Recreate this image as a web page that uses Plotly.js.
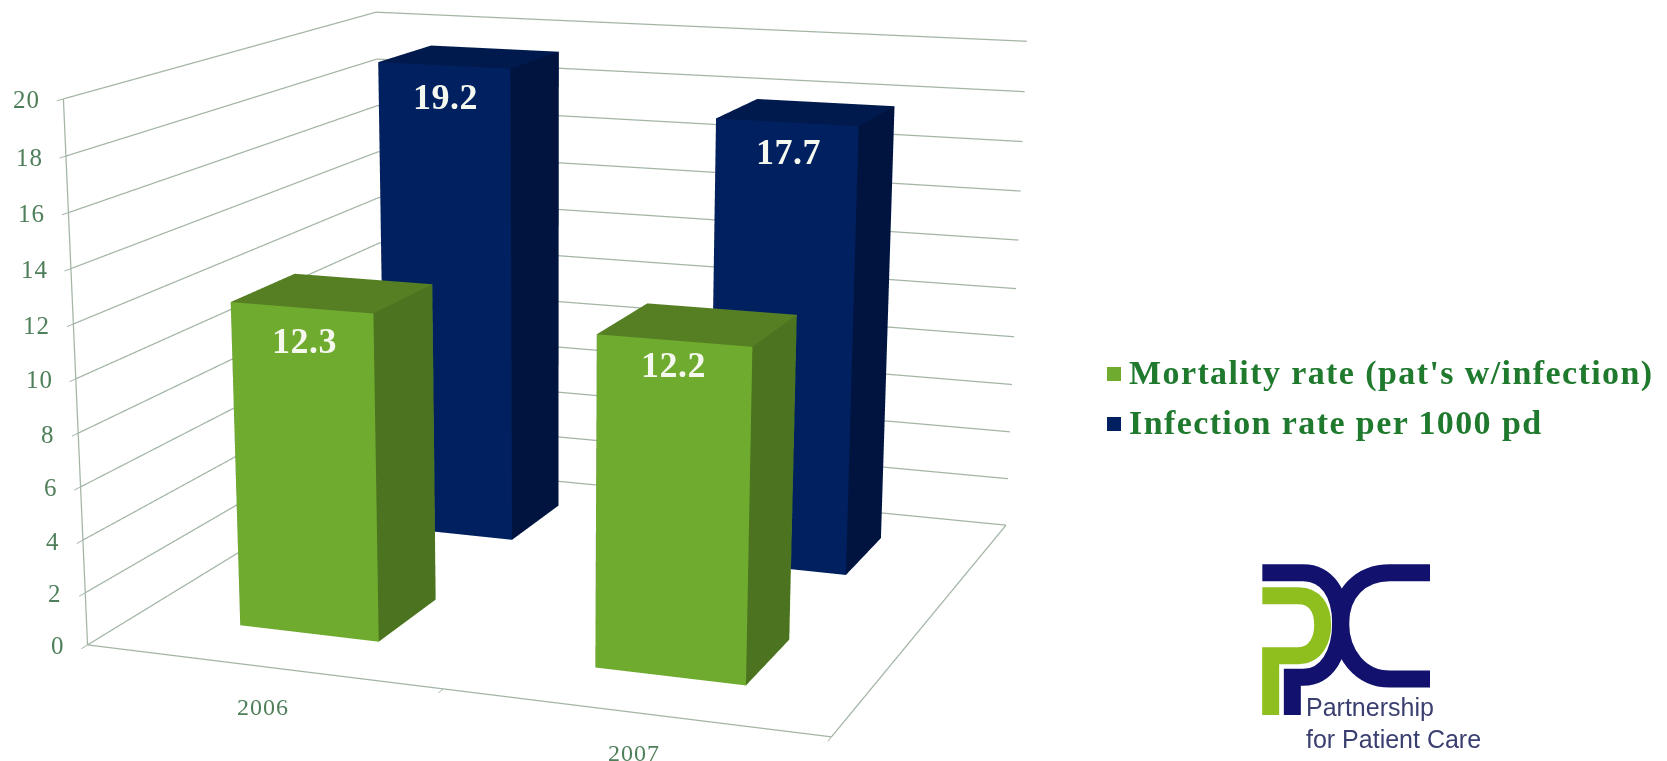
<!DOCTYPE html>
<html>
<head>
<meta charset="utf-8">
<script src="https://cdn.plot.ly/plotly-3.0.1.min.js"></script>
<style>
  html, body { margin: 0; padding: 0; width: 1667px; height: 761px; overflow: hidden; background: #fff; }
  #chart { position: absolute; left: -727px; top: -743px; width: 2552px; height: 2552px; }
</style>
</head>
<body>
<div id="chart"></div>
<script>
// Chart values
const years = ['2006', '2007'];
const mortalityRate = [12.3, 12.2];
const infectionRate = [19.2, 17.7];
const mortalityName = "Mortality rate (pat's w/infection)";
const infectionName = 'Infection rate per 1000 pd';
const valueTicks = [0, 2, 4, 6, 8, 10, 12, 14, 16, 18, 20];
const logoLines = ['Partnership', 'for Patient Care'];

// The scene is larger than the window so its 45 degree field of view gives a long lens.
const SIZE = 2552, OFF_X = -727, OFF_Y = -743;
const px = x => (x - OFF_X) / SIZE;
const py = y => 1 - (y - OFF_Y) / SIZE;

const BAR_HALF_W = 0.2, BAR_HALF_D = 0.201;
const ROW_MORTALITY = 0.498, ROW_INFECTION = 1.53;
const COL_MORTALITY = 0.5, COL_INFECTION = 0.488;
const X_MAX = 2, Y_MAX = 2, Z_MAX = 20;

// One mesh holding every bar of a series, each bar a box with its own face colours.
function barMesh(name, values, col, row, cFront, cTop, cSide) {
  const m = { x: [], y: [], z: [], i: [], j: [], k: [], facecolor: [] };
  values.forEach((v, c) => {
    const x0 = c + col - BAR_HALF_W, x1 = c + col + BAR_HALF_W;
    const y0 = row - BAR_HALF_D, y1 = row + BAR_HALF_D;
    const b = m.x.length;
    [[x0,y0,0],[x1,y0,0],[x1,y1,0],[x0,y1,0],[x0,y0,v],[x1,y0,v],[x1,y1,v],[x0,y1,v]].forEach(p => {
      m.x.push(p[0]); m.y.push(p[1]); m.z.push(p[2]);
    });
    const quads = [
      [0,1,5,4,cFront], [1,2,6,5,cSide], [4,5,6,7,cTop],
      [3,2,6,7,cFront], [0,3,7,4,cSide], [0,1,2,3,cFront]
    ];
    quads.forEach(q => {
      m.i.push(b+q[0], b+q[0]); m.j.push(b+q[1], b+q[2]); m.k.push(b+q[2], b+q[3]);
      m.facecolor.push(q[4], q[4]);
    });
  });
  return Object.assign(m, {
    type: 'mesh3d', name: name, flatshading: true, hoverinfo: 'skip', showscale: false,
    lighting: { ambient: 1, diffuse: 0, specular: 0, fresnel: 0, roughness: 1 }
  });
}

const GREEN = '#6fab2e', NAVY = '#01205f';
const GRID = '#a3b5a5', AXIS_TEXT = '#4f7f5a';

// Wall grid lines for each value tick, then the open edges of the floor and the value axis.
const frame = { x: [], y: [], z: [] };
const seg = pts => { pts.forEach(p => { frame.x.push(p[0]); frame.y.push(p[1]); frame.z.push(p[2]); }); frame.x.push(null); frame.y.push(null); frame.z.push(null); };
valueTicks.forEach(t => seg([[0, 0, t], [0, Y_MAX, t], [X_MAX, Y_MAX, t]]));
seg([[0, 0, Z_MAX], [0, 0, 0], [X_MAX, 0, 0], [X_MAX, Y_MAX, 0]]);

const traces = [
  barMesh(mortalityName, mortalityRate, COL_MORTALITY, ROW_MORTALITY, GREEN, '#567f24', '#4b7320'),
  barMesh(infectionName, infectionRate, COL_INFECTION, ROW_INFECTION, NAVY, '#011a4e', '#011440'),
  Object.assign({ type: 'scatter3d', mode: 'lines', hoverinfo: 'skip', showlegend: false, line: { color: GRID, width: 2.5 } }, frame)
];

const baseAxis = {
  showbackground: false, showspikes: false, zeroline: false, showticklabels: false,
  showline: false, showgrid: false, tickcolor: GRID, tickwidth: 2, autorange: false, title: { text: '' }
};

const spaced = (t, s) => '<span style="letter-spacing:' + s + 'px">' + t + '</span>';
const annos3d = [];
valueTicks.forEach(t => annos3d.push({
  x: 0, y: 0, z: t, text: spaced(String(t), 1), showarrow: false, xanchor: 'right', xshift: -21, yshift: -1,
  font: { family: 'Liberation Serif', size: 25, color: AXIS_TEXT }
}));
years.forEach((y, c) => annos3d.push({
  x: c + 0.5, y: 0, z: 0, text: spaced(y, 1), showarrow: false, yshift: -41, xshift: 1,
  font: { family: 'Liberation Serif', size: 24, color: AXIS_TEXT }
}));
function valueLabels(values, col, row, shifts) {
  values.forEach((v, c) => annos3d.push({
    x: c + col, y: row - BAR_HALF_D, z: v, text: '<b>' + spaced(v.toFixed(1), 0.5) + '</b>', showarrow: false,
    xshift: shifts[c][0], yshift: shifts[c][1],
    font: { family: 'Liberation Serif', size: 36, color: '#f4f8ee' }
  }));
}
valueLabels(mortalityRate, COL_MORTALITY, ROW_MORTALITY, [[3, -33], [0, -24]]);
valueLabels(infectionRate, COL_INFECTION, ROW_INFECTION, [[2, -32], [2, -30]]);

// Key on the right and the logo, placed in window pixels.
const LEGEND_GREEN = '#1f7a2e';
const annos = [
  [mortalityName, 386], [infectionName, 435]
].map(r => ({
  xref: 'paper', yref: 'paper', x: px(1127), y: py(r[1]), xanchor: 'left', yanchor: 'bottom', yshift: -8,
  text: '<b>' + spaced(r[0], 1.4) + '</b>', showarrow: false,
  font: { family: 'Liberation Serif', size: 34, color: LEGEND_GREEN }
}));
logoLines.forEach((t, n) => annos.push({
  xref: 'paper', yref: 'paper', x: px(1304), y: py(717 + n * 32), xanchor: 'left', yanchor: 'bottom', yshift: -6,
  text: t, showarrow: false, font: { family: 'Liberation Sans', size: 25, color: '#3a3f70' }
}));

function square(x, y, s, color) {
  return { type: 'rect', xref: 'paper', yref: 'paper', x0: px(x), x1: px(x + s), y0: py(y), y1: py(y + s),
           fillcolor: color, line: { width: 0 } };
}
// Logo strokes are described on a 3x grid anchored at the logo corner.
const logoPt = (x, y) => px(1220 + x / 3) + ',' + py(540 + y / 3);
function stroke(cmds, color) {
  const d = cmds.map(c => c[0] + c.slice(1).map(p => logoPt(p[0], p[1])).join(' ')).join(' ');
  return { type: 'path', xref: 'paper', yref: 'paper', path: d, fillcolor: 'rgba(0,0,0,0)', line: { color: color, width: 17 } };
}
const LOGO_NAVY = '#12126e', LOGO_GREEN = '#8fbf1f';
const shapes = [
  square(1107, 367, 14, GREEN),
  square(1107, 417, 14, NAVY),
  stroke([['M',[152,525]],['L',[152,347]],['L',[235,347]],['C',[290,347],[308,295],[308,255]],['C',[308,205],[285,167],[235,167]],['L',[127,167]]], LOGO_GREEN),
  stroke([['M',[217,525]],['L',[217,412]],['L',[250,412]],['C',[320,412],[362,340],[362,250]],['C',[362,160],[320,98],[250,98]],['L',[127,98]]], LOGO_NAVY),
  stroke([['M',[630,98]],['L',[510,98]],['C',[420,98],[362,160],[362,250]],['C',[362,340],[420,417],[510,417]],['L',[630,417]]], LOGO_NAVY)
];

const layout = {
  width: SIZE, height: SIZE, margin: { l: 0, r: 0, t: 0, b: 0, pad: 0 },
  paper_bgcolor: '#ffffff', showlegend: false, hovermode: false,
  annotations: annos, shapes: shapes,
  scene: {
    domain: { x: [0, 1], y: [0, 1] },
    aspectmode: 'manual', aspectratio: { x: 1.0043, y: 0.974, z: 0.714 },
    camera: {
      projection: { type: 'perspective' },
      eye: { x: 1.3945, y: -3.8615, z: 0.9116 },
      center: { x: -0.0089, y: -0.0829, z: -0.2651 },
      up: { x: 0, y: 0, z: 1 }
    },
    dragmode: false,
    xaxis: Object.assign({}, baseAxis, { range: [0, X_MAX], tickvals: [0, 1, 2], ticks: 'outside', ticklen: 10 }),
    yaxis: Object.assign({}, baseAxis, { range: [0, Y_MAX], tickvals: [], ticks: '' }),
    zaxis: Object.assign({}, baseAxis, { range: [0, Z_MAX], tickvals: valueTicks, ticks: 'outside', ticklen: 8 }),
    annotations: annos3d
  }
};

Plotly.newPlot('chart', traces, layout, { displayModeBar: false, responsive: false });
</script>
</body>
</html>
